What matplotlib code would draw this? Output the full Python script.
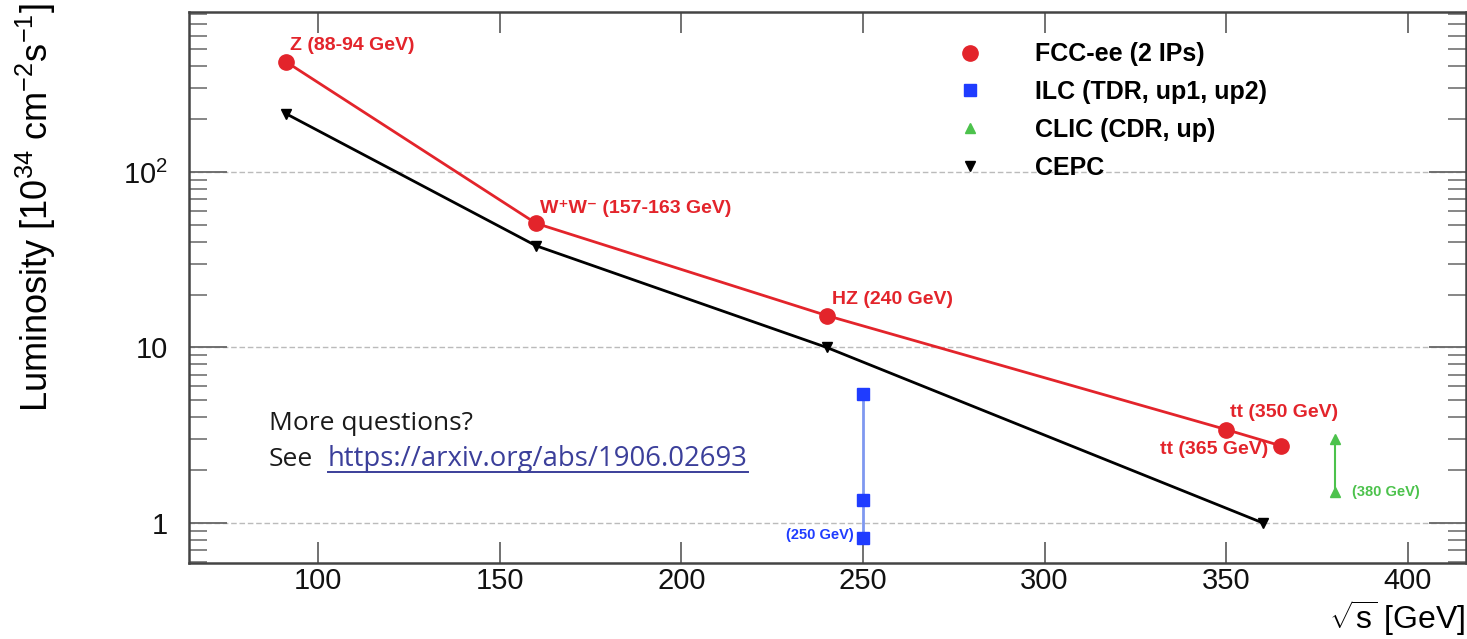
import matplotlib
matplotlib.use("Agg")
import matplotlib.pyplot as plt
from matplotlib.lines import Line2D

plt.rcParams['font.family'] = ['Liberation Sans', 'DejaVu Sans']
plt.rcParams['mathtext.fontset'] = 'custom'
plt.rcParams['mathtext.rm'] = 'Liberation Sans'
plt.rcParams['mathtext.it'] = 'Liberation Sans:italic'
plt.rcParams['mathtext.bf'] = 'Liberation Sans:bold'

# FCC-ee (2 IPs)
fcc_x = [91.2, 160, 240, 350, 365]
fcc_y = [425, 51, 15.2, 3.4, 2.75]
fcc_labels = ['Z (88-94 GeV)', 'W\u207aW\u207b (157-163 GeV)', 'HZ (240 GeV)',
              'tt (350 GeV)', 'tt (365 GeV)']

# CEPC
cepc_x = [91.2, 160, 240, 360]
cepc_y = [215, 38, 10, 1.0]

# ILC (TDR, up1, up2) at 250 GeV
ilc_x = [250, 250, 250]
ilc_y = [0.82, 1.35, 5.4]

# CLIC (CDR, up) at 380 GeV
clic_x = [380, 380]
clic_y = [1.5, 3.0]

x_ticks = [100, 150, 200, 250, 300, 350, 400]
y_ticks = [1, 10, 100]
y_ticklabels = ['1', '10', '10$^{2}$']

RED = '#e3242b'
BLUE = '#1f3cff'
BLUE_LINE = '#7f98f0'
GREEN = '#4cc24c'
LINK = '#3b3f9a'

W, H = 1467, 639
fig = plt.figure(figsize=(W / 100, H / 100), dpi=100)
ax = fig.add_axes([189 / W, 76 / H, 1277 / W, 551 / H])

ax.set_yscale('log')
ax.set_xlim(64.5, 416)
ax.set_ylim(0.59, 817)

# lines
ax.plot(fcc_x, fcc_y, color=RED, lw=2, zorder=3)
ax.plot(cepc_x, cepc_y, color='black', lw=2, zorder=3)
ax.plot(ilc_x, ilc_y, color=BLUE_LINE, lw=2, zorder=3)
ax.plot(clic_x, clic_y, color=GREEN, lw=1.5, zorder=3)

# markers
ax.plot(fcc_x, fcc_y, 'o', ms=11, color=RED, label='FCC-ee (2 IPs)', zorder=4)
ax.plot(ilc_x, ilc_y, 's', ms=8, color=BLUE, label='ILC (TDR, up1, up2)', zorder=4)
ax.plot(clic_x, clic_y, '^', ms=7, color=GREEN, label='CLIC (CDR, up)', zorder=4)
ax.plot(cepc_x, cepc_y, 'v', ms=7, color='black', label='CEPC', zorder=4)

# point labels
offsets = [(4, 16, 'left'), (4, 15, 'left'), (5, 16, 'left'), (4, 17, 'left'), (-12, -4, 'right')]
for xv, yv, txt, (dx, dy, ha) in zip(fcc_x, fcc_y, fcc_labels, offsets):
    ax.annotate(txt, (xv, yv), xytext=(dx, dy), textcoords='offset pixels',
                ha=ha, va='center', color=RED, fontsize=14, fontweight='bold')
ax.annotate('(250 GeV)', (ilc_x[0], ilc_y[0]), xytext=(-9, 3), textcoords='offset pixels',
            ha='right', va='center', color=BLUE, fontsize=10.5, fontweight='bold')
ax.annotate('(380 GeV)', (clic_x[0], clic_y[0]), xytext=(17, 0), textcoords='offset pixels',
            ha='left', va='center', color=GREEN, fontsize=10.5, fontweight='bold')

# axes style
ax.set_xticks(x_ticks)
ax.set_yticks(y_ticks)
ax.set_yticklabels(y_ticklabels)
ax.tick_params(axis='both', which='both', direction='in', top=True, right=True,
               colors='#666666', labelcolor='#111111')
ax.tick_params(axis='x', which='major', length=15, width=1.3, labelsize=21, pad=3)
ax.tick_params(axis='y', which='major', length=27, width=1.3, labelsize=21, pad=15)
ax.tick_params(axis='y', which='minor', length=13, width=1.1)
ax.tick_params(axis='x', which='minor', bottom=False, top=False)
for sp in ax.spines.values():
    sp.set_color('#444444')
    sp.set_linewidth(1.8)
ax.yaxis.grid(True, which='major', linestyle=(0, (4, 2)), color='#bbbbbb', lw=1)
ax.set_axisbelow(True)

fig.text(36 / W, 1 - 3 / H, 'Luminosity [10$^{34}$ cm$^{-2}$s$^{-1}$]', rotation=90,
         ha='center', va='top', fontsize=26)
fig.text(1466 / W, 1 - 618 / H, r'$\sqrt{\mathrm{s}}$ [GeV]', ha='right', va='center',
         fontsize=23)

ax.legend(loc='upper left', bbox_to_anchor=(0.592, 0.945), frameon=False,
          prop={'weight': 'bold', 'size': 18}, handlelength=2, handletextpad=1.6,
          labelspacing=0.55, borderpad=0, borderaxespad=0)

# note with link
fig.text(269 / W, 1 - 423 / H, 'More questions?', fontsize=19, family='Open Sans',
         ha='left', va='center', color='#1a1a1a')
fig.text(269 / W, 1 - 459 / H, 'See', fontsize=19, family='Open Sans',
         ha='left', va='center', color='#1a1a1a')
link = fig.text(328 / W, 1 - 459 / H, 'https://arxiv.org/abs/1906.02693', fontsize=19.8,
                family='Open Sans', ha='left', va='center', color=LINK)
fig.canvas.draw()
bb = link.get_window_extent(fig.canvas.get_renderer())
uy = (bb.y0 + 1) / H
fig.add_artist(Line2D([bb.x0 / W, bb.x1 / W], [uy, uy], transform=fig.transFigure,
                      color=LINK, lw=1.4))

fig.savefig('out.png', dpi=100)
